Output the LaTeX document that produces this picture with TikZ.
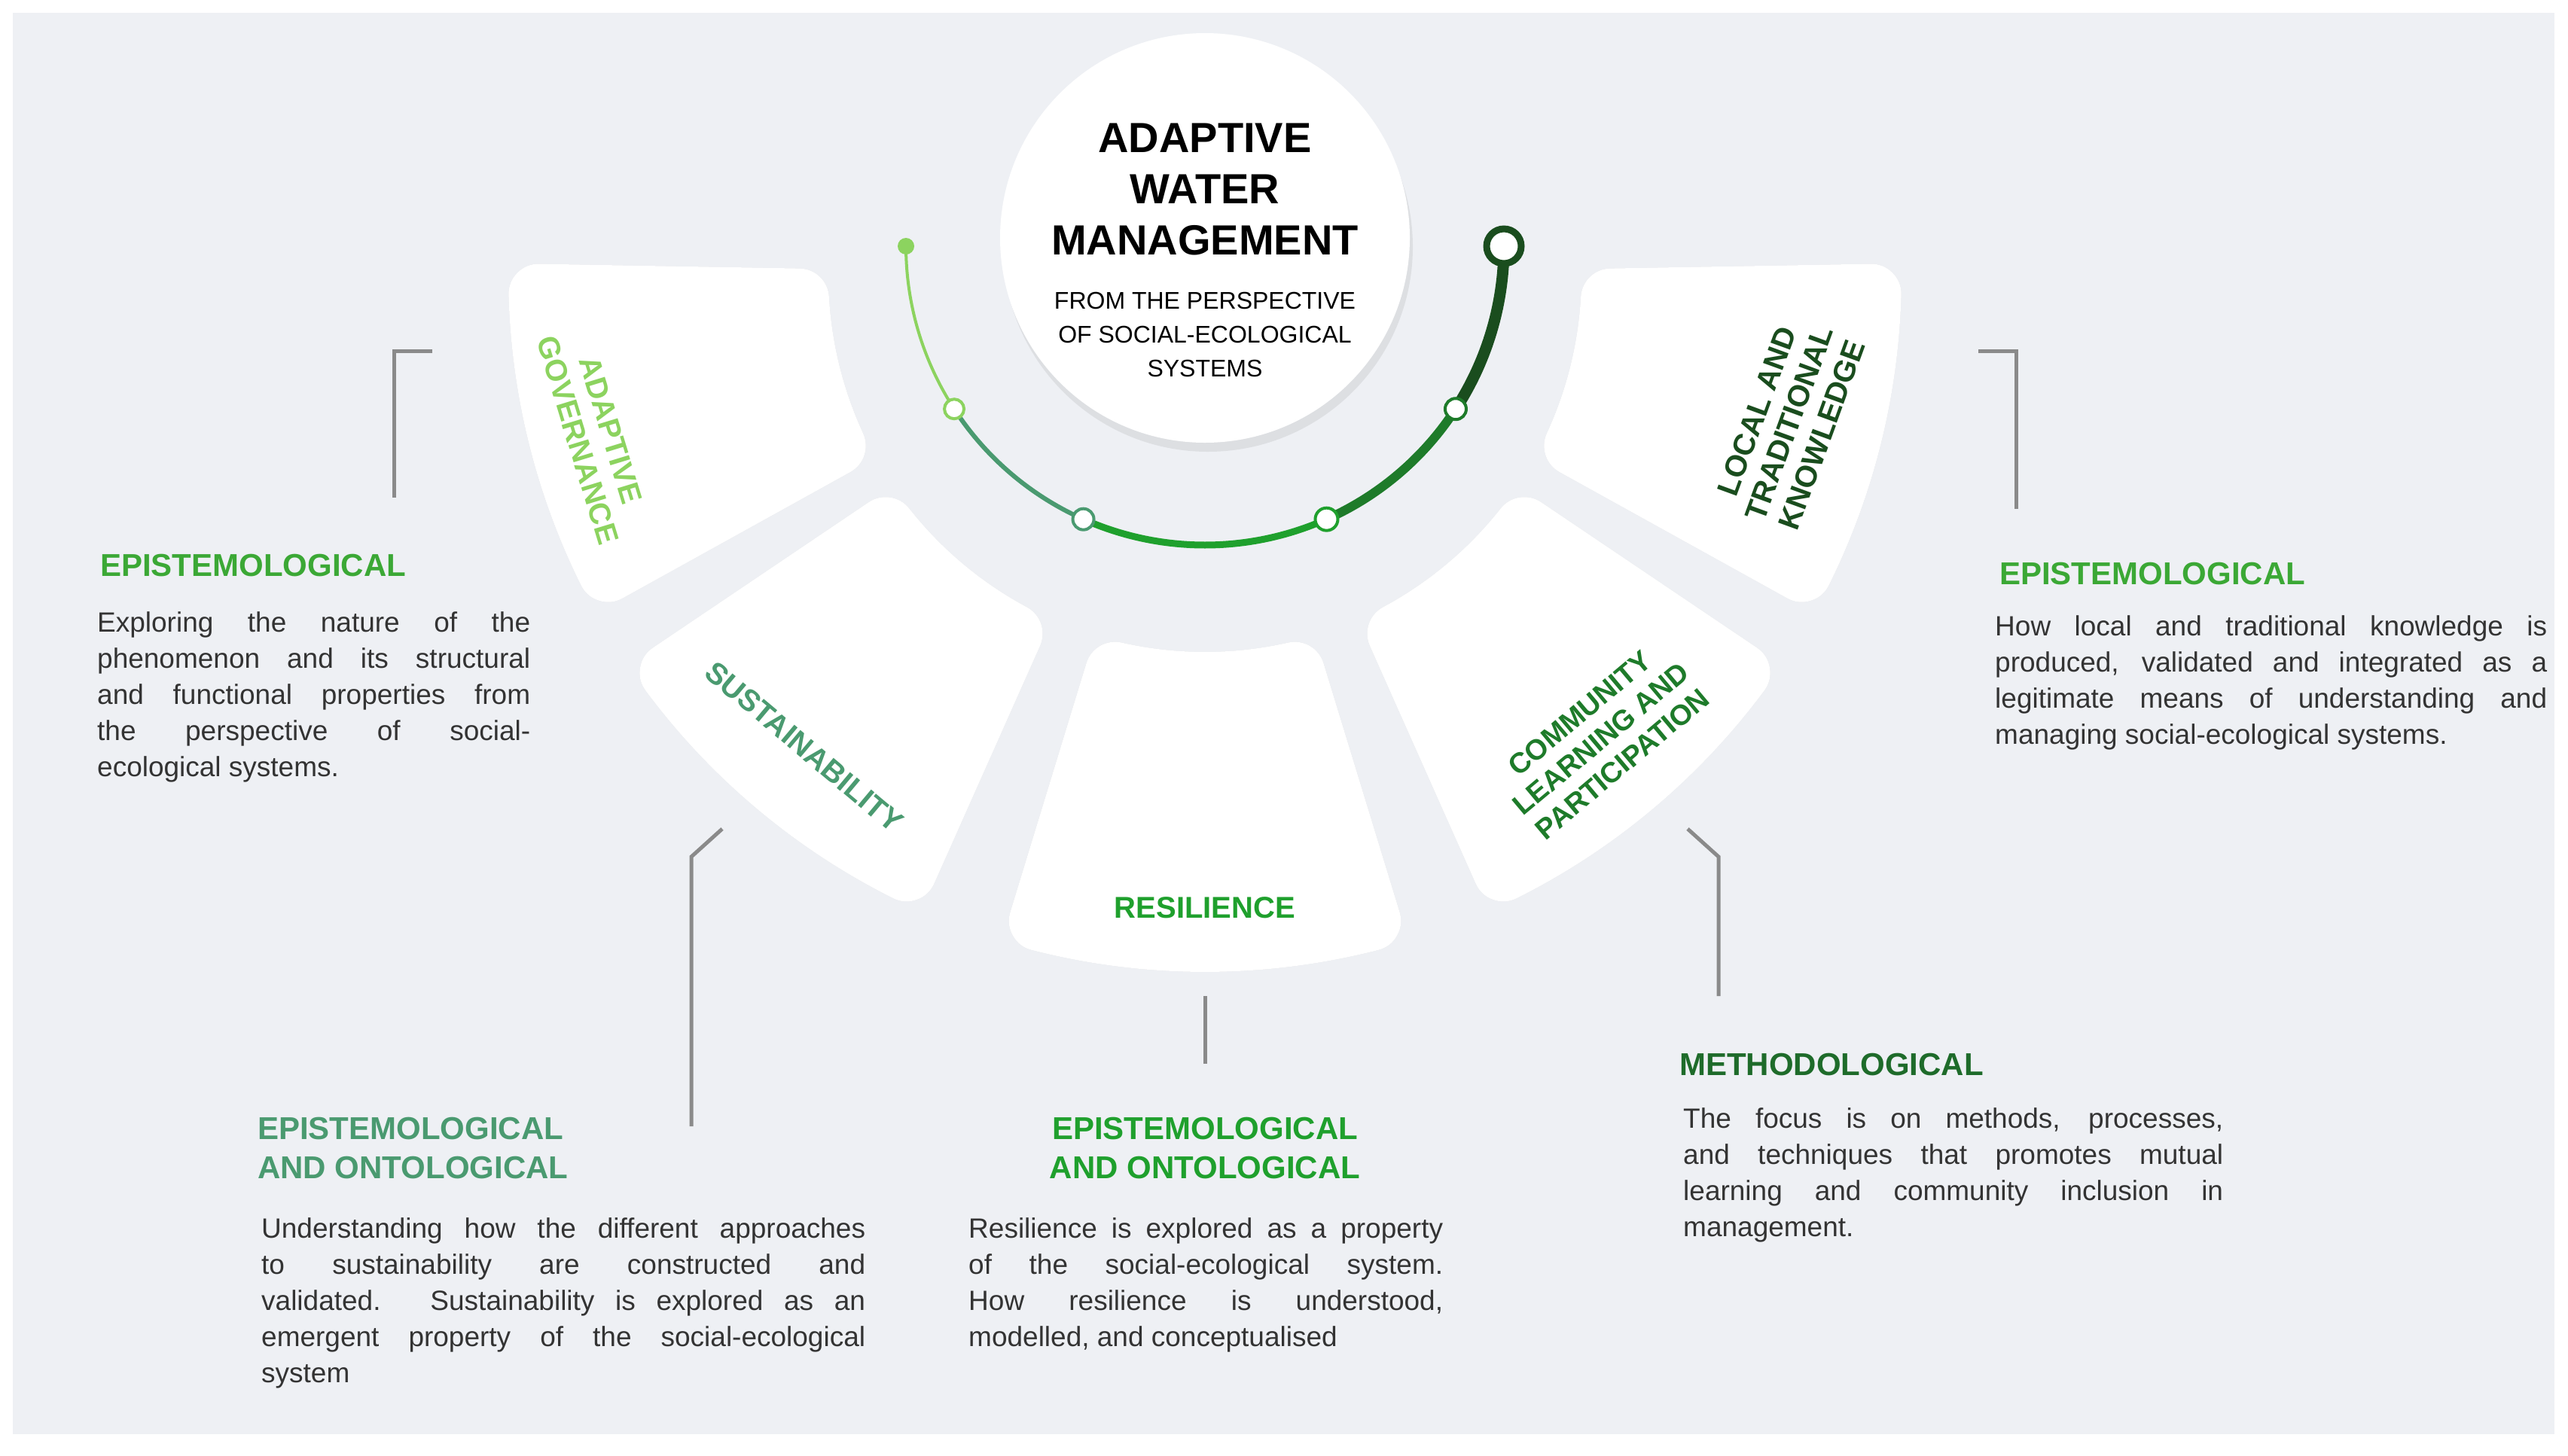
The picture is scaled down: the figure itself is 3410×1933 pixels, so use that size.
\documentclass[tikz,border=0pt]{standalone}
\usepackage{fontspec}
\setmainfont{Liberation Sans}
\usetikzlibrary{shadows,calc}
\definecolor{bg}{HTML}{EEF0F4}
\definecolor{lg}{HTML}{8CD35F}
\definecolor{hg}{HTML}{3BA835}
\definecolor{tg}{HTML}{4A9A70}
\definecolor{rg}{HTML}{1FA02D}
\definecolor{cg}{HTML}{1E7B2A}
\definecolor{dg}{HTML}{1A4D1E}
\definecolor{mg}{HTML}{1E6B2A}
\definecolor{body}{HTML}{333333}
\definecolor{brk}{HTML}{8A8A8A}
\tikzset{
  petal/.style={fill=white, draw=white, line width=80pt, line join=round},
  pshadow/.style={fill=black!70, draw=black!70, line width=80pt, line join=round},
  plabel/.style={font=\bfseries\fontsize{40}{46}\selectfont, align=center},
  head/.style={font=\bfseries\fontsize{42}{52}\selectfont, anchor=base west, inner sep=0pt, align=left},
  bodytxt/.style={font=\fontsize{37}{48}\selectfont, color=body, anchor=base west, inner sep=0pt, align=justify},
  brkline/.style={draw=brk, line width=5pt},
  ring/.style={fill=white, line width=4pt},
}
\newcommand{\petalpath}[3]{% angle, half width, style
  \pgfmathsetmacro{\ai}{asin(40/540)}\pgfmathsetmacro{\ao}{asin(40/885)}
  \path[#3] ($(C)+(#1-#2+\ai:540)$) -- ($(C)+(#1-#2+\ao:885)$)
     arc[start angle=#1-#2+\ao, end angle=#1+#2-\ao, radius=885]
     -- ($(C)+(#1+#2-\ai:540)$)
     arc[start angle=#1+#2-\ai, end angle=#1-#2+\ai, radius=540] -- cycle;}
\begin{document}
\begin{tikzpicture}[x=1pt,y=-1pt]
\useasboundingbox (0,0) rectangle (3410,1933);
\fill[white] (0,0) rectangle (3410,1933);
\fill[bg] (17,17) rectangle (3392,1905);
\coordinate (C) at (1600,366);
\begin{scope}[transparency group, opacity=0.10, shift={(4,12)}]
\foreach \a/\w in {166/15,130/16,90/17,50/16,14/15}{\petalpath{\a}{\w}{pshadow}}
\fill[black!70] (1600,316) circle[radius=272];
\end{scope}
\foreach \a/\w in {166/15,130/16,90/17,50/16,14/15}{\petalpath{\a}{\w}{petal}}
% central circle
\node[circle, fill=white, minimum size=544pt, inner sep=0pt] (circ) at (1600,316) {};
\node[font=\bfseries\fontsize{56}{68}\selectfont, align=center, anchor=base] (title) at (1600,338) {ADAPTIVE\\WATER\\MANAGEMENT};
\node[font=\fontsize{32}{45}\selectfont, align=center, anchor=base] (sub) at (1600,500) {FROM THE PERSPECTIVE\\OF SOCIAL-ECOLOGICAL\\SYSTEMS};
% arc
\coordinate (A) at (1600,327);
\def\r{397}
\draw[lg, line width=4pt] ($(A)+(180:\r)$) arc[start angle=180, end angle=147, radius=\r];
\draw[tg, line width=6pt] ($(A)+(147:\r)$) arc[start angle=147, end angle=114, radius=\r];
\draw[rg, line width=9pt] ($(A)+(114:\r)$) arc[start angle=114, end angle=66, radius=\r];
\draw[cg, line width=12pt] ($(A)+(66:\r)$) arc[start angle=66, end angle=33, radius=\r];
\draw[dg, line width=15pt] ($(A)+(33:\r)$) arc[start angle=33, end angle=0, radius=\r];
\fill[lg] ($(A)+(180:\r)$) circle[radius=11];
\draw[ring, draw=lg] ($(A)+(147:\r)$) circle[radius=13];
\draw[ring, draw=tg] ($(A)+(114:\r)$) circle[radius=14];
\draw[ring, draw=rg] ($(A)+(66:\r)$) circle[radius=15];
\draw[ring, draw=cg] ($(A)+(33:\r)$) circle[radius=14];
\draw[fill=white, draw=dg, line width=9pt] ($(A)+(0:\r)$) circle[radius=23];
% petal labels
\node[plabel, lg, rotate=-73] (gov) at (789,578) {ADAPTIVE\\GOVERNANCE};
\node[plabel, tg, rotate=-40] (sus) at (1068,992) {SUSTAINABILITY};
\node[plabel, rg] (res) at (1600,1206) {RESILIENCE};
\node[plabel, cg, rotate=40, font=\bfseries\fontsize{38}{44}\selectfont] (com) at (2126,981) {COMMUNITY\\LEARNING AND\\PARTICIPATION};
\node[plabel, dg, rotate=70] (loc) at (2376,562) {LOCAL AND\\TRADITIONAL\\KNOWLEDGE};
% brackets
\coordinate (b1a) at (574,466); \coordinate (b1b) at (523,466); \coordinate (b1c) at (523,661);
\draw[brkline] (b1a) -- (b1b) -- (b1c);
\coordinate (b2a) at (2627,466); \coordinate (b2b) at (2677,466); \coordinate (b2c) at (2677,676);
\draw[brkline] (b2a) -- (b2b) -- (b2c);
\coordinate (b3a) at (959,1101); \coordinate (b3b) at (918,1138); \coordinate (b3c) at (918,1496);
\draw[brkline] (b3a) -- (b3b) -- (b3c);
\coordinate (b4a) at (1600,1323); \coordinate (b4b) at (1600,1413);
\draw[brkline] (b4a) -- (b4b);
\coordinate (b5a) at (2241,1101); \coordinate (b5b) at (2282,1138); \coordinate (b5c) at (2282,1323);
\draw[brkline] (b5a) -- (b5b) -- (b5c);
% texts
\node[head, hg] (h1) at (133,765) {EPISTEMOLOGICAL};
\node[bodytxt, text width=575pt] (t1) at (129,839) {Exploring the nature of the\linebreak phenomenon and its structural\linebreak and functional properties from\linebreak the perspective of social-\linebreak ecological systems.};
\node[head, hg] (h2) at (2655,776) {EPISTEMOLOGICAL};
\node[bodytxt, text width=733pt] (t2) at (2649,844) {How local and traditional knowledge is\linebreak produced, validated and integrated as a\linebreak legitimate means of understanding and\linebreak managing social-ecological systems.};
\node[head, tg] (h3) at (342,1565) {EPISTEMOLOGICAL\\AND ONTOLOGICAL};
\node[bodytxt, text width=802pt] (t3) at (347,1644) {Understanding how the different approaches\linebreak to sustainability are constructed and\linebreak validated. Sustainability is explored as an\linebreak emergent property of the social-ecological\linebreak system};
\node[head, rg, anchor=base, align=center] (h4) at (1600,1565) {EPISTEMOLOGICAL\\AND ONTOLOGICAL};
\node[bodytxt, text width=630pt] (t4) at (1286,1644) {Resilience is explored as a property\linebreak of the social-ecological system.\linebreak How resilience is understood,\linebreak modelled, and conceptualised};
\node[head, mg] (h5) at (2230,1428) {METHODOLOGICAL};
\node[bodytxt, text width=717pt] (t5) at (2235,1498) {The focus is on methods, processes,\linebreak and techniques that promotes mutual\linebreak learning and community inclusion in\linebreak management.};
\end{tikzpicture}
\end{document}
